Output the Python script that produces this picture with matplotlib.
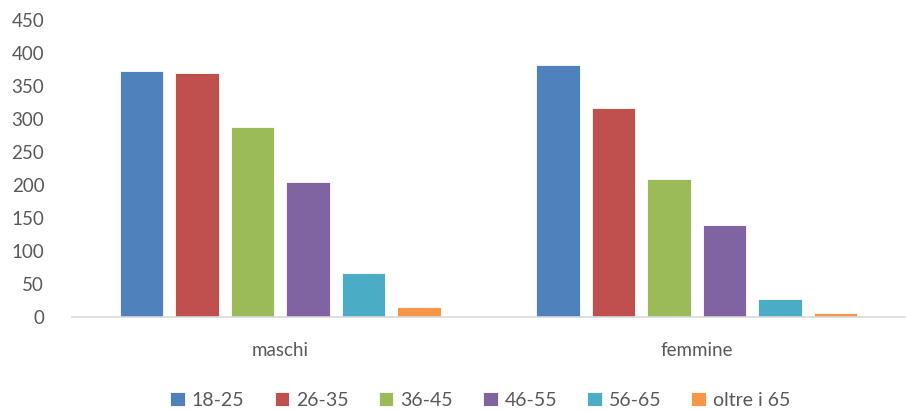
import matplotlib
matplotlib.use("Agg")
import matplotlib.pyplot as plt
import numpy as np

categories = ["maschi", "femmine"]
age_groups = ["18-25", "26-35", "36-45", "46-55", "56-65", "oltre i 65"]
values = {
    "18-25": [372, 381],
    "26-35": [369, 317],
    "36-45": [288, 209],
    "46-55": [205, 139],
    "56-65": [66, 28],
    "oltre i 65": [15, 6],
}
colors = ["#4F81BD", "#C0504D", "#9BBB59", "#8064A2", "#4BACC6", "#F79646"]

plt.rcParams["font.family"] = ["Lato", "DejaVu Sans"]
txt = "#595959"

fig = plt.figure(figsize=(9.06, 4.12), dpi=100)
ax = fig.add_axes([0.0795, 0.2306, 0.9195, 0.721])

x = np.arange(len(categories))
step = 0.1333
width = 0.1047
for i, (g, c) in enumerate(zip(age_groups, colors)):
    offs = (i - (len(age_groups) - 1) / 2) * step
    ax.bar(x + offs, values[g], width, color=c, label=g,
           edgecolor="white", linewidth=0.6)

ax.set_xlim(-0.5, 1.5)
ax.set_ylim(0, 450)
ax.set_yticks(range(0, 451, 50))
ax.set_xticks(x)
ax.set_xticklabels(categories)
ax.tick_params(axis="y", length=0, pad=20, labelsize=13.5, labelcolor=txt)
ax.tick_params(axis="x", length=0, pad=18, labelsize=13.5, labelcolor=txt)
for s in ["top", "right", "left"]:
    ax.spines[s].set_visible(False)
ax.spines["bottom"].set_color("#d9d9d9")
ax.spines["bottom"].set_linewidth(1.2)

leg = ax.legend(loc="center", bbox_to_anchor=(0.49, -0.28), ncol=6,
                frameon=False, fontsize=14, handlelength=0.75,
                handleheight=0.75, handletextpad=0.35, columnspacing=1.55)
for t in leg.get_texts():
    t.set_color(txt)

plt.savefig("out.png", dpi=100)
plt.close()
